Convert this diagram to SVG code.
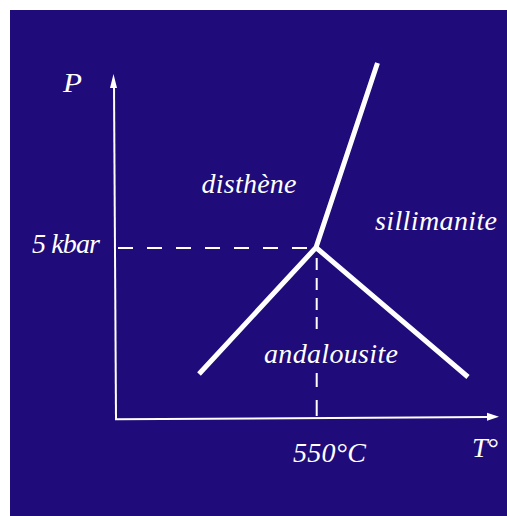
<svg xmlns="http://www.w3.org/2000/svg" width="507" height="516" viewBox="0 0 507 516">
<style>
.lbl{font-family:"Liberation Serif","Times New Roman",serif;font-style:italic;font-size:28px;fill:#ffffff}
.axis{stroke:#ffffff;stroke-width:2;fill:none}
.dash{stroke:#ffffff;stroke-width:2;fill:none}
.phase{stroke:#ffffff;stroke-width:5;fill:none;stroke-linejoin:miter;stroke-linecap:butt}
</style>
<rect x="10" y="10" width="497" height="506" fill="#1f0b79"/>
<g id="connectors">
<line class="axis" x1="114" y1="84" x2="116" y2="419"/>
<polygon points="113.5,74 110,88 117,88" fill="#ffffff"/>
<line class="axis" x1="115" y1="419.3" x2="489" y2="417"/>
<polygon points="499,416.7 487,412.7 487,420.7" fill="#ffffff"/>
<line class="dash" x1="118" y1="248" x2="308" y2="248" stroke-dasharray="15 14"/>
<path class="dash" d="M316.7,258V270M316.7,278V290M316.7,298V310M316.7,317V329M316.7,373V387M316.7,400V416"/>
<path class="phase" d="M199,374L316,247.5L468,377M316,247.5L377.5,63"/>
</g>
<g id="label-P"><text class="lbl" x="63" y="91.5" font-size="29" textLength="19" lengthAdjust="spacingAndGlyphs">P</text></g>
<g id="label-5kbar"><text class="lbl" x="32" y="253" textLength="68" lengthAdjust="spacing">5 kbar</text></g>
<g id="label-disthene"><text class="lbl" x="201.5" y="193" textLength="95" lengthAdjust="spacing">disthène</text></g>
<g id="label-sillimanite"><text class="lbl" x="375" y="230" textLength="122" lengthAdjust="spacing">sillimanite</text></g>
<g id="label-andalousite"><text class="lbl" x="264" y="363" font-size="27" textLength="134" lengthAdjust="spacing">andalousite</text></g>
<g id="label-550C"><text class="lbl" x="293" y="461.5" textLength="73" lengthAdjust="spacing">550°C</text></g>
<g id="label-T"><text class="lbl" x="472" y="456.7" textLength="26" lengthAdjust="spacing">T°</text></g>
</svg>
